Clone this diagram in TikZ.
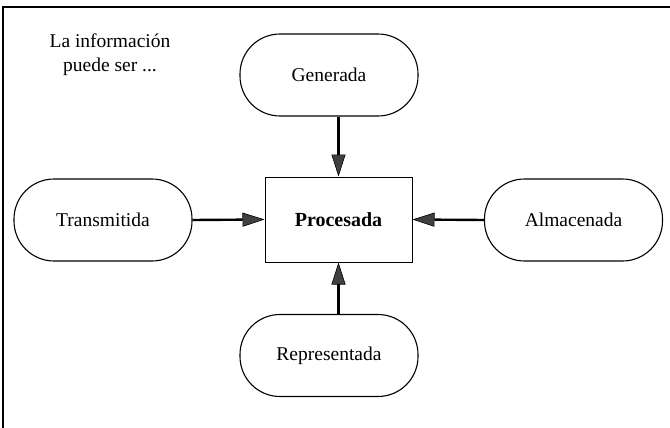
\documentclass[tikz,border=0pt]{standalone}
\usepackage{fontspec}
\setmainfont{Liberation Serif}
\usetikzlibrary{arrows.meta}
\begin{document}
\begin{tikzpicture}[x=1pt,y=-1pt,
  font=\fontsize{19.5}{24}\selectfont,
  stadium/.style={draw, line width=1.1pt, rounded corners=40pt, minimum width=178pt, minimum height=82pt, inner sep=0pt},
  procbox/.style={draw, line width=1pt, minimum width=147pt, minimum height=85pt, inner sep=0pt, font=\fontsize{20}{24}\selectfont\bfseries},
  flow/.style={line width=2.4pt, -{Triangle[length=22pt,width=14pt,fill=black!75,line width=0.6pt]}}]
\useasboundingbox (0,0) rectangle (670,428);
\coordinate (tl) at (3,7);
\coordinate (tr) at (670,7);
\coordinate (bl) at (3,428);
\draw[line width=1.2pt] (tr) -- (tl) -- (bl);
\node[align=center] (intro) at (110,55) {La información\\puede ser ...};
\node[stadium] (gen) at (329,75) {Generada};
\node[procbox] (proc) at (338.5,219.5) {Procesada};
\node[stadium] (tra) at (103,220) {Transmitida};
\node[stadium] (alm) at (573.5,220) {Almacenada};
\node[stadium] (rep) at (329,355.5) {Representada};
\draw[flow] (gen.south -| proc.north) -- (proc.north);
\draw[flow] (rep.north -| proc.south) -- (proc.south);
\draw[flow] (tra.east) -- (proc.west);
\draw[flow] (alm.west) -- (proc.east);
\end{tikzpicture}
\end{document}
